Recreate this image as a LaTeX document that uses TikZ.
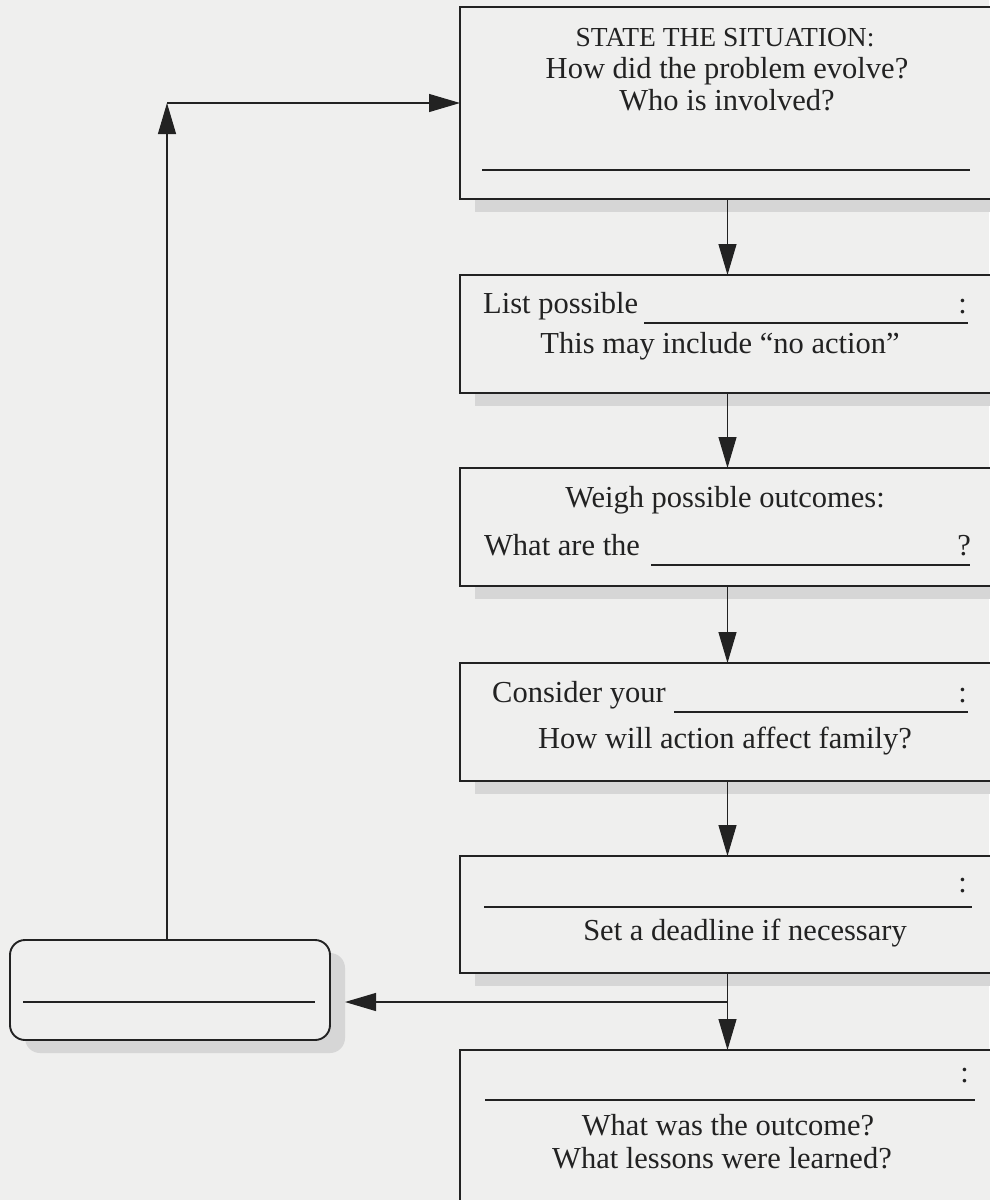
\documentclass[tikz,border=0pt]{standalone}
\usepackage{fontspec}
\setmainfont{Liberation Serif}
\usetikzlibrary{arrows.meta,shadows}
\definecolor{bg}{HTML}{EFEFEE}
\definecolor{shade}{HTML}{D6D6D6}
\definecolor{ink}{HTML}{222222}
\begin{document}
\begin{tikzpicture}[x=1pt,y=-1pt,
  box/.style={draw=ink,line width=1.9pt,fill=bg,minimum width=535pt,inner sep=0pt,outer sep=0pt,
    general shadow={fill=shade,shadow xshift=15pt,shadow yshift=-13pt}},
  txt/.style={anchor=base,inner sep=0pt,text=ink,font=\fontsize{30.5}{33}\selectfont},
  captxt/.style={txt,font=\fontsize{27.5}{33}\selectfont},
  conn/.style={draw=ink,line width=1.2pt},
  arr/.style={conn,-{Triangle[length=31pt,width=18pt]}},
  uline/.style={draw=ink,line width=1.2pt}]
\fill[bg] (0,0) rectangle (989,1200);
\useasboundingbox (0,0) rectangle (989,1200);

% boxes
\node[box,minimum height=192pt] (b1) at (727.5,103) {};
\node[box,minimum height=118pt] (b2) at (727.5,334) {};
\node[box,minimum height=118pt] (b3) at (727.5,527) {};
\node[box,minimum height=118pt] (b4) at (727.5,722) {};
\node[box,minimum height=117pt] (b5) at (727.5,914.5) {};
\node[box,minimum height=200pt] (b6) at (727.5,1150) {};
\node[box,rounded corners=15pt,minimum width=320pt,minimum height=100pt] (rb) at (170,990) {};

% box 1
\node[captxt] (t1a) at (725,46) {STATE THE SITUATION:};
\node[txt] (t1b) at (727,78) {How did the problem evolve?};
\node[txt] (t1c) at (727,110) {Who is involved?};
\draw[uline] (482,170) -- (970,170);

% box 2
\node[txt,anchor=base west] (t2a) at (483,313) {List possible};
\draw[uline] (644,323) -- (968,323);
\node[txt,anchor=base east] (t2b) at (967,313) {:};
\node[txt] (t2c) at (720,353) {This may include “no action”};

% box 3
\node[txt] (t3a) at (725,507) {Weigh possible outcomes:};
\node[txt,anchor=base west] (t3b) at (484,555) {What are the};
\draw[uline] (651,565) -- (970,565);
\node[txt,anchor=base east] (t3c) at (971,555) {?};

% box 4
\node[txt,anchor=base west] (t4a) at (492,702) {Consider your};
\draw[uline] (674,712) -- (968,712);
\node[txt,anchor=base east] (t4b) at (967,702) {:};
\node[txt] (t4c) at (725,748) {How will action affect family?};

% box 5
\node[txt,anchor=base east] (t5a) at (967,892) {:};
\draw[uline] (484,907) -- (972,907);
\node[txt] (t5b) at (745,940) {Set a deadline if necessary};

% box 6
\node[txt,anchor=base east] (t6a) at (969,1082) {:};
\draw[uline] (485,1100) -- (975,1100);
\node[txt] (t6b) at (728,1135) {What was the outcome?};
\node[txt] (t6c) at (722,1168) {What lessons were learned?};

% rounded box underline
\draw[uline] (23,1002) -- (315,1002);

% connectors
\draw[arr] (b1.south) -- (b2.north);
\draw[arr] (b2.south) -- (b3.north);
\draw[arr] (b3.south) -- (b4.north);
\draw[arr] (b4.south) -- (b5.north);
\draw[arr] (b5.south) -- (b6.north);
\coordinate (split) at (727.5,1002);
\draw[arr,shorten >=15pt] (split) -- (rb.east |- split);
\coordinate (corner) at (167,103);
\draw[arr] (rb.north -| corner) -- (corner);
\draw[arr] (corner) -- (b1.west);
\end{tikzpicture}
\end{document}
